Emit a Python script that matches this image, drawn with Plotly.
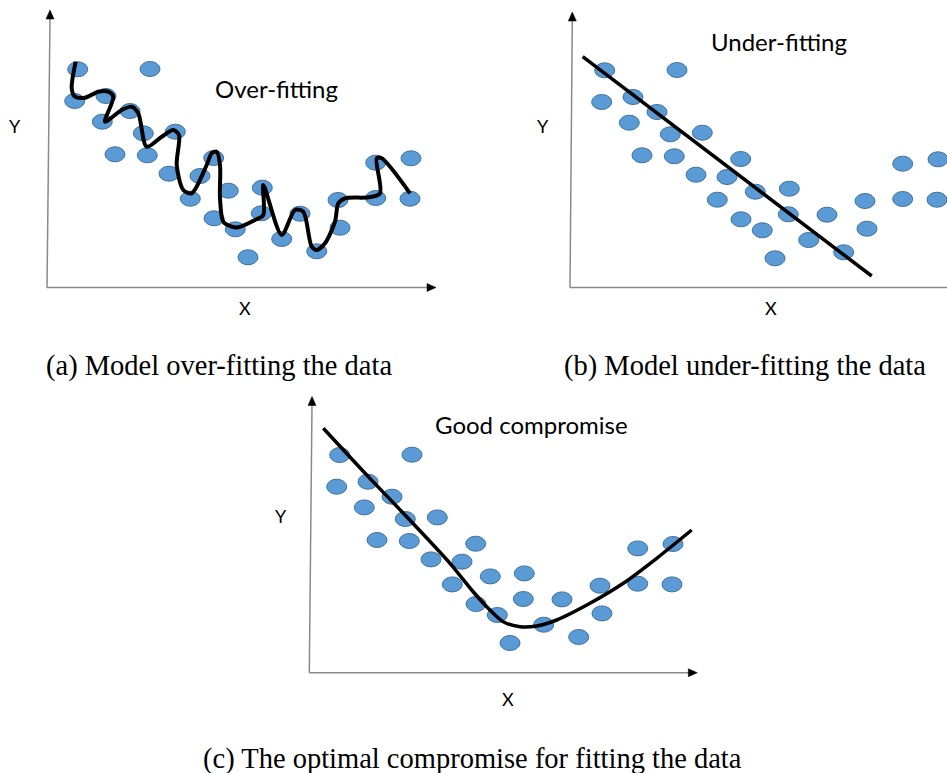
import plotly.graph_objects as go

W, H = 947, 773
SCALE = 10.0  # pixels per data unit on every panel

# Observations shared by the three panels (arbitrary units)
obs_x = [3.07, 10.30, 2.77, 5.90, 8.30, 5.53, 9.63, 12.83, 6.80, 10.03,
         16.67, 12.20, 15.30, 14.33, 18.13, 21.53, 16.70, 21.43, 18.83, 25.30,
         23.47, 20.10, 26.97, 29.10, 29.30, 32.87, 32.87, 36.40, 36.30]
obs_y = [21.87, 21.90, 18.70, 19.20, 17.70, 16.63, 15.47, 15.63, 13.37, 13.27,
         13.00, 11.43, 11.20, 8.93, 9.73, 10.03, 6.97, 7.47, 5.87, 7.43,
         4.90, 3.07, 3.67, 8.80, 6.03, 12.53, 9.00, 12.97, 8.93]

# Over-fitted model: passes through almost every observation
over_x = [2.87, 2.47, 2.80, 3.80, 5.13, 6.13, 6.63, 5.80, 7.47, 8.47,
          9.13, 9.97, 11.47, 12.63, 13.20, 12.97, 13.63, 14.47, 15.97, 16.47,
          16.97, 17.30, 17.30, 17.63, 18.47, 19.13, 20.80, 21.63, 21.63, 23.47,
          24.80, 25.63, 26.47, 26.97, 27.80, 28.80, 29.13, 29.80, 32.13, 33.30,
          32.97, 33.47, 36.30]
over_y = [22.63, 19.97, 19.13, 19.03, 19.63, 19.63, 19.13, 16.63, 17.80, 18.13,
          17.47, 14.13, 15.13, 15.80, 15.30, 12.30, 9.80, 9.47, 12.30, 13.47,
          13.63, 12.30, 8.97, 6.63, 6.13, 6.07, 6.80, 7.30, 10.30, 5.30,
          7.80, 7.63, 4.13, 3.80, 4.47, 6.63, 8.47, 8.97, 9.07, 9.47,
          12.97, 12.97, 9.47]

# Under-fitted model: a single straight line
under_x = [0.87, 29.77]
under_y = [23.23, 1.30]

# Well-balanced model: smooth curve following the trend
good_x = [1.43, 5.77, 9.77, 14.10, 16.27, 17.77, 19.43, 21.10, 22.77, 24.77,
          28.10, 31.43, 34.77, 38.27]
good_y = [24.54, 19.87, 15.70, 11.04, 8.37, 6.70, 5.20, 4.70, 4.77, 5.37,
          7.04, 9.04, 11.54, 14.37]

FILL = "#5B9BD5"
EDGE = "#41719C"
TEXT_FONT = "Lato"
CAPTION_FONT = "Liberation Serif"


def fx(p):
    return p / W


def fy(p):
    return 1 - p / H


panels = [
    dict(key="", origin=(47, 288),
         yline=((47, 288), (50, 18)), ytip=(50, 10),
         xline=((47, 287.5), (428, 287.5)), xtip=(436, 287.5),
         title="Over-fitting", title_pos=(276.5, 89),
         ylab=(15, 126), xlab=(245, 308),
         caption="(a) Model over-fitting the data", cap_pos=(218.5, 366),
         fx_=over_x, fy_=over_y, smooth=True, lw=4),
    dict(key="2", origin=(574, 289),
         yline=((570, 287.5), (572.3, 20)), ytip=(572.3, 12),
         xline=((570, 287.5), (947, 287.5)), xtip=None,
         title="Under-fitting", title_pos=(779, 41),
         ylab=(543, 126), xlab=(771, 308),
         caption="(b) Model under-fitting the data", cap_pos=(744.5, 366),
         fx_=under_x, fy_=under_y, smooth=False, lw=3.5),
    dict(key="3", origin=(309, 673.7),
         yline=((309.3, 672.7), (312, 404)), ytip=(312, 396.5),
         xline=((309.3, 672.7), (689, 672.7)), xtip=(697.3, 672.7),
         title="Good compromise", title_pos=(531, 424),
         ylab=(281, 516), xlab=(508, 699),
         caption="(c) The optimal compromise for fitting the data",
         cap_pos=(472.5, 759),
         fx_=good_x, fy_=good_y, smooth=True, lw=3.5),
]

fig = go.Figure()
shapes = []
annotations = []
layout_axes = {}

for p in panels:
    k = p["key"]
    ox, oy = p["origin"]
    # plotting window in pixels around the data origin
    left, right = ox - 30, min(ox + 400, W)
    top, bottom = max(oy - 285, 0), oy + 15
    xr = [(left - ox) / SCALE, (right - ox) / SCALE]
    yr = [(oy - bottom) / SCALE, (oy - top) / SCALE]
    axis_style = dict(showgrid=False, zeroline=False, showline=False,
                      showticklabels=False, ticks="", fixedrange=True)
    layout_axes["xaxis" + k] = dict(domain=[fx(left), fx(right)], range=xr,
                                    anchor="y" + k, **axis_style)
    layout_axes["yaxis" + k] = dict(domain=[fy(bottom), fy(top)], range=yr,
                                    anchor="x" + k, **axis_style)

    xref, yref = "x" + k, "y" + k

    # observations as ellipses
    for xv, yv in zip(obs_x, obs_y):
        shapes.append(dict(type="circle", xref=xref, yref=yref,
                           xsizemode="pixel", ysizemode="pixel",
                           xanchor=xv, yanchor=yv,
                           x0=-10, x1=10, y0=-7.5, y1=7.5,
                           fillcolor=FILL, line=dict(color=EDGE, width=1),
                           layer="below"))

    # fitted model
    line = dict(color="black", width=p["lw"])
    if p["smooth"]:
        line.update(shape="spline", smoothing=0.8)
    fig.add_trace(go.Scatter(x=p["fx_"], y=p["fy_"], mode="lines", line=line,
                             xaxis=xref, yaxis=yref, hoverinfo="skip",
                             showlegend=False))

    # axis lines
    for (a, b) in (p["yline"], p["xline"]):
        shapes.append(dict(type="line", xref="paper", yref="paper",
                           x0=fx(a[0]), y0=fy(a[1]), x1=fx(b[0]), y1=fy(b[1]),
                           line=dict(color="#8a8a8a", width=1.5),
                           layer="above"))
    tx, ty = p["ytip"]
    shapes.append(dict(type="path", xref="paper", yref="paper",
                       path=f"M {fx(tx)},{fy(ty)} L {fx(tx - 4)},{fy(ty + 9)} "
                            f"L {fx(tx + 4)},{fy(ty + 9)} Z",
                       fillcolor="black", line=dict(color="black", width=0.5)))
    if p["xtip"] is not None:
        tx, ty = p["xtip"]
        shapes.append(dict(type="path", xref="paper", yref="paper",
                           path=f"M {fx(tx)},{fy(ty)} L {fx(tx - 9)},{fy(ty - 4)} "
                                f"L {fx(tx - 9)},{fy(ty + 4)} Z",
                           fillcolor="black", line=dict(color="black", width=0.5)))

    # texts
    annotations.append(dict(text=p["title"], x=fx(p["title_pos"][0]),
                            y=fy(p["title_pos"][1]), xref="paper", yref="paper",
                            showarrow=False, xanchor="center", yanchor="middle",
                            font=dict(family=TEXT_FONT, size=24, color="black")))
    for lab, pos in (("Y", p["ylab"]), ("X", p["xlab"])):
        annotations.append(dict(text=lab, x=fx(pos[0]), y=fy(pos[1]),
                                xref="paper", yref="paper", showarrow=False,
                                xanchor="center", yanchor="middle",
                                font=dict(family=TEXT_FONT, size=18,
                                          color="black")))
    annotations.append(dict(text=p["caption"], x=fx(p["cap_pos"][0]),
                            y=fy(p["cap_pos"][1]), xref="paper", yref="paper",
                            showarrow=False, xanchor="center", yanchor="middle",
                            font=dict(family=CAPTION_FONT, size=28.5,
                                      color="black")))

fig.update_layout(width=W, height=H, margin=dict(l=0, r=0, t=0, b=0),
                  paper_bgcolor="white", plot_bgcolor="white",
                  shapes=shapes, annotations=annotations, **layout_axes)

fig.write_html("out.html", config={"displayModeBar": False})
